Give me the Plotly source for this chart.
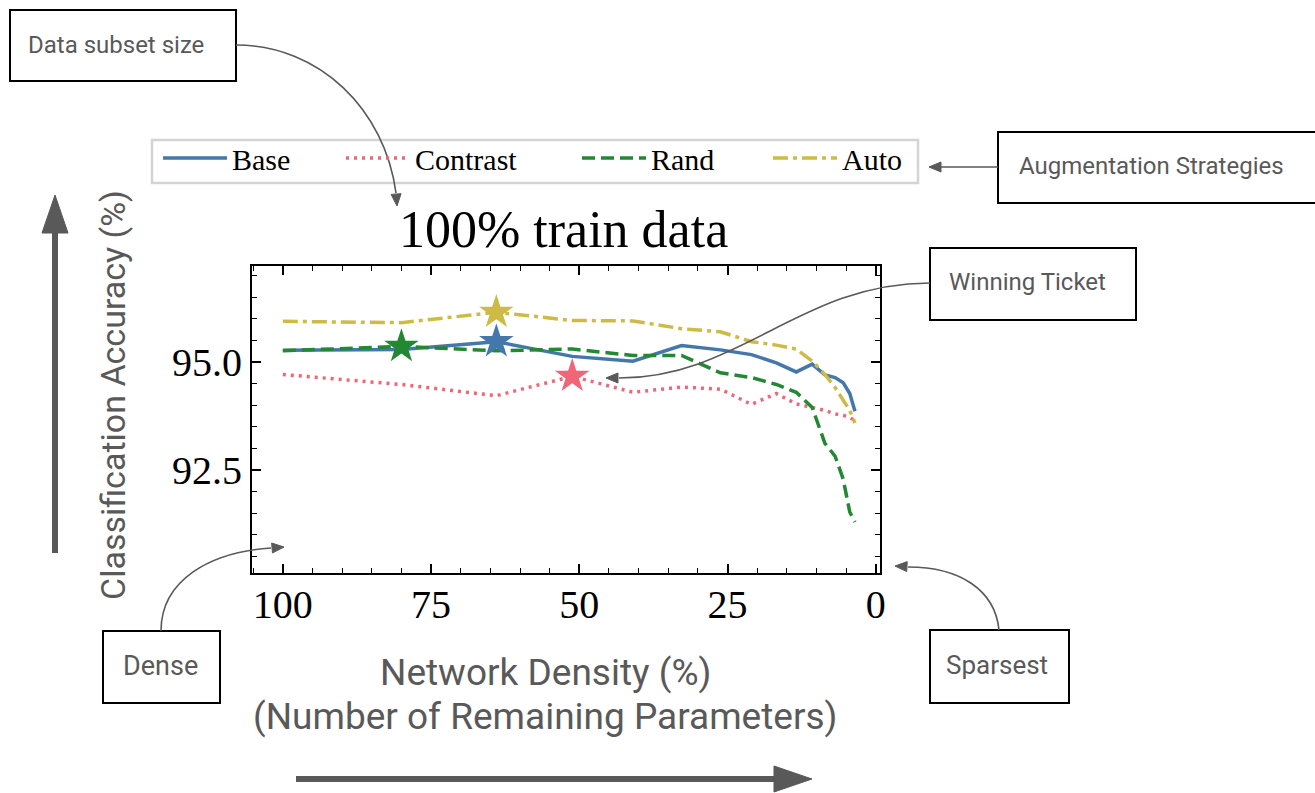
import plotly.graph_objects as go

# ---- data: accuracy vs. remaining network density (iterative pruning, 20% per round)
density = [100, 80, 64, 51.2, 40.96, 32.77, 26.21, 20.97, 16.78, 13.42, 10.74, 8.59, 6.87, 5.50, 4.40, 3.52]
base = [95.27, 95.29, 95.47, 95.13, 95.02, 95.38, 95.28, 95.17, 94.98, 94.77, 94.95, 94.70, 94.64, 94.52, 94.27, 93.86]
contrast = [94.71, 94.48, 94.22, 94.67, 94.30, 94.42, 94.37, 94.02, 94.27, 94.03, 93.95, 93.88, 93.80, 93.77, 93.71, 93.65]
rand = [95.26, 95.36, 95.26, 95.30, 95.15, 95.15, 94.75, 94.64, 94.48, 94.30, 93.95, 93.12, 92.82, 92.29, 91.53, 91.30]
auto = [95.94, 95.91, 96.15, 95.96, 95.95, 95.77, 95.70, 95.47, 95.39, 95.30, 95.02, 94.71, 94.41, 94.11, 93.88, 93.59]

series_names = ["Base", "Contrast", "Rand", "Auto"]
series_values = [base, contrast, rand, auto]
# index of the winning ticket (best accuracy) in each series
winner_index = [2, 3, 1, 2]

colors = ["#4477AA", "#EE6677", "#228833", "#CCBB44"]
dashes = ["solid", "3px,5px", "13px,6px", "15px,5px,4px,5px"]

x_ticks = [100, 75, 50, 25, 0]
y_ticks = [92.5, 95.0]

# ---- geometry of the plotting box in page pixels
W, H = 1315, 793
PL, PR, PT, PB = 252, 880, 266, 573


def px(x):
    return (x - PL) / (PR - PL)


def py(y):
    return (PB - y) / (PB - PT)


GRAY = "#595959"
SANS = "Roboto"
SERIF = "Liberation Serif"

# one legend per series so the entries can sit at their own horizontal slots
legend_ids = ["legend", "legend2", "legend3", "legend4"]
legend_left = [158, 341, 577, 768]

fig = go.Figure()

for name, vals, col, dsh, lg in zip(series_names, series_values, colors, dashes, legend_ids):
    fig.add_trace(go.Scatter(
        x=density, y=vals, mode="lines", name=name, legend=lg,
        line=dict(color=col, width=3.5, dash=dsh),
    ))

for name, vals, col, wi in zip(series_names, series_values, colors, winner_index):
    fig.add_trace(go.Scatter(
        x=[density[wi]], y=[vals[wi]], mode="markers", showlegend=False,
        marker=dict(symbol="star", size=26, color=col, line=dict(width=0)),
        name=name + " ticket",
    ))

axis_common = dict(
    showgrid=False, zeroline=False, showline=True, mirror="allticks",
    linecolor="black", linewidth=2, ticks="inside", ticklen=9, tickwidth=1.5,
    tickcolor="black", tickfont=dict(family=SERIF, size=40, color="black"),
)

fig.update_xaxes(
    range=[105.2, -0.7], tickvals=x_ticks, ticktext=[str(v) for v in x_ticks],
    ticklabelstandoff=-5,
    minor=dict(ticks="inside", ticklen=5, tickwidth=1.2, tickcolor="black", dtick=5, tick0=0),
    **axis_common,
)
fig.update_yaxes(
    range=[90.12, 97.22], tickvals=y_ticks, ticktext=[f"{v:.1f}" for v in y_ticks],
    minor=dict(ticks="inside", ticklen=5, tickwidth=1.2, tickcolor="black", dtick=0.5, tick0=0),
    **axis_common,
)

shapes = []
annotations = []


def seg_path(points):
    return " ".join(("M" if i == 0 else "L") + f"{px(x):.5f},{py(y):.5f}" for i, (x, y) in enumerate(points))


def curve(p0, c1, c2, p1, width=1.6):
    d = (f"M{px(p0[0]):.5f},{py(p0[1]):.5f} C{px(c1[0]):.5f},{py(c1[1]):.5f} "
         f"{px(c2[0]):.5f},{py(c2[1]):.5f} {px(p1[0]):.5f},{py(p1[1]):.5f}")
    shapes.append(dict(type="path", xref="paper", yref="paper", path=d,
                       line=dict(color=GRAY, width=width), layer="above"))


def head(tip, frm, length=12, half=5):
    dx, dy = tip[0] - frm[0], tip[1] - frm[1]
    n = (dx * dx + dy * dy) ** 0.5
    dx, dy = dx / n, dy / n
    bx, by = tip[0] - length * dx, tip[1] - length * dy
    pts = [tip, (bx - half * dy, by + half * dx), (bx + half * dy, by - half * dx)]
    shapes.append(dict(type="path", xref="paper", yref="paper", path=seg_path(pts) + " Z",
                       fillcolor=GRAY, line=dict(color=GRAY, width=1), layer="above"))


def box(x0, y0, x1, y1, color="black", width=2):
    shapes.append(dict(type="rect", xref="paper", yref="paper",
                       x0=px(x0), x1=px(x1), y0=py(y1), y1=py(y0),
                       line=dict(color=color, width=width), fillcolor="rgba(0,0,0,0)", layer="above"))


def label(text, x, y, size=24, angle=0):
    annotations.append(dict(text=text, x=px(x), y=py(y), xref="paper", yref="paper",
                            xanchor="center", yanchor="middle", showarrow=False,
                            textangle=angle, font=dict(family=SANS, size=size, color=GRAY)))


# legend frame
box(152, 140, 918, 183, color="#d4d4d4", width=2.5)

# callout boxes
box(10, 10, 236, 81)
label("Data subset size", 116, 45)
curve((236, 45), (320, 45), (385, 110), (396, 193))
head((397, 206), (396, 193))

box(998, 132, 1322, 203)
label("Augmentation Strategies", 1151, 166)
shapes.append(dict(type="line", xref="paper", yref="paper", x0=px(998), x1=px(940),
                   y0=py(167), y1=py(167), line=dict(color=GRAY, width=1.6), layer="above"))
head((929, 167), (998, 167))

box(930, 248, 1136, 320)
label("Winning Ticket", 1027, 282)
curve((930, 283), (800, 283), (740, 378), (619, 378))
head((606, 378), (640, 378))

box(103, 631, 220, 703)
label("Dense", 160, 666, size=27)
curve((161, 631), (161, 580), (210, 552), (271, 548))
head((284, 547), (260, 549))

box(930, 630, 1069, 703)
label("Sparsest", 997, 665, size=26)
curve((999, 630), (995, 590), (960, 567), (908, 567))
head((895, 566), (915, 567))

# big axis direction arrows
shapes.append(dict(type="line", xref="paper", yref="paper", x0=px(55), x1=px(55),
                   y0=py(553), y1=py(228), line=dict(color=GRAY, width=6), layer="above"))
head((55, 195), (55, 300), length=38, half=13)
shapes.append(dict(type="line", xref="paper", yref="paper", x0=px(296), x1=px(780),
                   y0=py(779), y1=py(779), line=dict(color=GRAY, width=6), layer="above"))
head((812, 779), (700, 779), length=38, half=13)

# axis descriptions
label("Classification Accuracy (%)", 113, 395, size=34, angle=-90)
label("Network Density (%)", 545, 672, size=37)
label("(Number of Remaining Parameters)", 545, 716, size=37)

# panel title
annotations.append(dict(text="100% train data", x=px(563), y=py(229), xref="paper", yref="paper",
                        xanchor="center", yanchor="middle", showarrow=False,
                        font=dict(family=SERIF, size=52, color="black")))

legend_layout = {}
for lg, left in zip(legend_ids, legend_left):
    legend_layout[lg] = dict(
        orientation="h", x=px(left), y=py(132), xanchor="left", yanchor="top",
        bgcolor="rgba(255,255,255,0)", borderwidth=0,
        font=dict(family=SERIF, size=30, color="black"),
        itemwidth=64,
    )

fig.update_layout(
    width=W, height=H, autosize=False,
    margin=dict(l=PL, r=W - PR, t=PT, b=H - PB, autoexpand=False),
    paper_bgcolor="white", plot_bgcolor="white",
    shapes=shapes, annotations=annotations,
    showlegend=True,
    **legend_layout,
)

fig.write_html("out.html")
